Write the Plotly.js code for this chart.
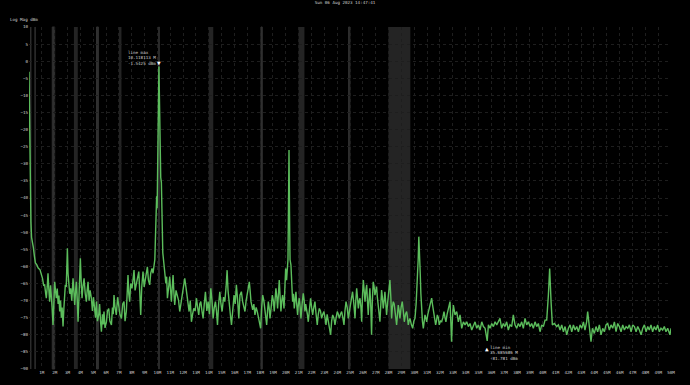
<!DOCTYPE html>
<html>
<head>
<meta charset="utf-8">
<script src="https://cdn.plot.ly/plotly-3.0.1.min.js"></script>
<style>
html,body{margin:0;padding:0;background:#000;}
#chart{width:690px;height:385px;}
</style>
</head>
<body>
<div id="chart"></div>
<script>
// ---- data ----
const chartTitle = 'Sun 06 Aug 2023 14:47:41';
const yLabel = 'Log Mag dBm';

const freqMHz = [
0.00,0.02,0.04,0.07,0.11,0.15,0.20,0.27,0.34,0.42,0.50,0.60,0.72,0.86,0.96,1.05,1.14,1.22,1.30,1.35,
1.42,1.48,1.55,1.61,1.68,1.74,1.80,1.87,1.93,2.00,2.06,2.13,2.20,2.27,2.33,2.39,2.46,2.52,2.58,2.65,
2.72,2.78,2.83,2.90,2.95,2.99,3.04,3.09,3.17,3.25,3.33,3.43,3.50,3.56,3.63,3.69,3.76,3.82,3.90,3.96,
4.00,4.06,4.13,4.20,4.29,4.38,4.47,4.53,4.60,4.68,4.76,4.86,4.94,5.02,5.12,5.18,5.25,5.33,5.43,5.50,
5.57,5.64,5.72,5.78,5.84,5.92,6.03,6.11,6.21,6.30,6.42,6.50,6.56,6.62,6.70,6.80,6.90,6.99,7.08,7.20,
7.30,7.40,7.48,7.58,7.64,7.71,7.77,7.84,7.92,8.02,8.10,8.18,8.26,8.36,8.45,8.55,8.62,8.70,8.78,8.88,
8.97,9.06,9.14,9.22,9.30,9.40,9.48,9.58,9.66,9.74,9.80,9.86,9.90,9.94,9.98,10.03,10.08,10.118113,10.16,10.21,
10.26,10.31,10.36,10.42,10.50,10.57,10.66,10.72,10.78,10.88,10.96,11.03,11.09,11.16,11.22,11.29,11.35,11.45,11.56,11.65,
11.74,11.83,11.92,12.02,12.13,12.22,12.31,12.40,12.47,12.56,12.65,12.74,12.83,12.94,13.04,13.13,13.22,13.30,13.38,13.47,
13.56,13.65,13.74,13.85,13.95,14.05,14.16,14.25,14.34,14.43,14.52,14.60,14.68,14.77,14.86,14.95,15.04,15.15,15.25,15.35,
15.43,15.50,15.58,15.68,15.77,15.87,15.97,16.06,16.15,16.25,16.34,16.43,16.54,16.64,16.73,16.82,16.91,17.00,17.08,17.16,
17.22,17.29,17.42,17.51,17.60,17.69,17.78,17.86,17.94,18.04,18.12,18.20,18.29,18.38,18.45,18.51,18.58,18.64,18.70,18.77,
18.86,18.95,19.03,19.10,19.16,19.23,19.30,19.36,19.43,19.49,19.56,19.62,19.69,19.75,19.81,19.86,19.93,19.99,20.06,20.12,
20.17,20.21,20.25,20.29,20.33,20.40,20.47,20.53,20.60,20.66,20.72,20.79,20.85,20.92,20.98,21.05,21.12,21.18,21.27,21.36,
21.43,21.49,21.55,21.62,21.68,21.75,21.84,21.93,22.01,22.09,22.18,22.27,22.36,22.45,22.53,22.61,22.70,22.79,22.88,22.97,
23.05,23.13,23.22,23.31,23.40,23.49,23.57,23.65,23.74,23.83,23.92,24.01,24.09,24.17,24.26,24.35,24.44,24.53,24.61,24.69,
24.78,24.87,24.96,25.05,25.12,25.20,25.30,25.39,25.45,25.52,25.58,25.65,25.72,25.78,25.85,25.91,25.98,26.04,26.10,26.17,
26.24,26.30,26.36,26.42,26.48,26.55,26.62,26.68,26.74,26.81,26.88,26.94,27.01,27.07,27.13,27.20,27.27,27.33,27.40,27.46,
27.52,27.59,27.66,27.72,27.79,27.85,27.92,27.98,28.05,28.11,28.18,28.24,28.30,28.37,28.44,28.50,28.57,28.63,28.70,28.76,
28.83,28.89,28.98,29.07,29.15,29.23,29.32,29.41,29.48,29.54,29.60,29.67,29.78,29.88,29.97,30.06,30.15,30.24,30.31,30.36,
30.41,30.47,30.52,30.58,30.64,30.71,30.78,30.84,30.90,30.97,31.06,31.15,31.25,31.36,31.42,31.49,31.58,31.67,31.73,31.80,
31.88,31.95,32.05,32.14,32.23,32.32,32.40,32.47,32.56,32.66,32.72,32.79,32.85,32.91,32.98,33.05,33.18,33.31,33.44,33.57,
33.70,33.83,33.96,34.09,34.22,34.35,34.48,34.61,34.74,34.87,35.00,35.13,35.26,35.39,35.52,35.685686,35.78,35.91,36.04,36.17,
36.30,36.43,36.56,36.68,36.81,36.94,37.07,37.20,37.33,37.46,37.59,37.72,37.85,37.98,38.11,38.24,38.37,38.50,38.63,38.76,
38.89,39.02,39.15,39.28,39.41,39.54,39.67,39.80,39.93,40.06,40.19,40.32,40.45,40.55,40.66,40.76,40.92,41.10,41.23,41.36,
41.49,41.62,41.75,41.88,42.01,42.14,42.27,42.40,42.53,42.66,42.79,42.92,43.05,43.18,43.30,43.43,43.51,43.62,43.77,43.88,
44.03,44.16,44.29,44.42,44.55,44.68,44.81,44.94,45.07,45.20,45.33,45.46,45.59,45.72,45.85,45.98,46.11,46.24,46.37,46.50,
46.63,46.76,46.89,47.02,47.15,47.28,47.41,47.54,47.67,47.80,47.93,48.06,48.19,48.31,48.44,48.57,48.70,48.83,48.96,49.09,
49.22,49.35,49.48,49.61,49.74,49.92,50.00
];

const magDbm = [
-3.1,-10,-22,-31,-40,-47,-51.5,-54,-54.5,-57,-59,-59.5,-60.5,-61,-62,-63.5,-65.5,-65.4,-68,-69.3,
-66,-62,-67,-70.3,-65.5,-67.9,-72,-77.1,-71,-64.5,-67,-69.3,-66.5,-71,-68.5,-73.2,-70,-75,-72,-77.6,
-72,-69,-65.4,-66,-60,-54.7,-62,-64.5,-68,-66.4,-70,-63.5,-67,-71.3,-67,-64.5,-70,-76.2,-68,-61,
-57.6,-64,-69.3,-66,-63.5,-68,-70.3,-67,-64.5,-70,-67,-69.3,-73,-69,-72.3,-75,-70.3,-76,-74.2,-71,
-76,-79.1,-74,-77,-73.2,-78,-76.2,-73,-72.3,-76,-77.1,-72,-74,-68.4,-72,-74.2,-69,-71.3,-74,-75.2,
-71,-70.3,-76,-73.2,-68,-62.5,-68,-70.3,-65,-66.4,-64,-61.1,-67,-65.4,-63,-61.5,-67,-74.2,-66,-61.5,
-66,-63.5,-62,-60.1,-64,-65.4,-62,-60.6,-62,-60,-58,-50,-41,-39.5,-43,-25,-8,-1.5425,-11,-25,
-34,-35.5,-45,-56,-59,-61.5,-65,-63,-69.3,-66,-63,-67,-70.3,-66,-62.5,-68,-71.3,-67,-68.4,-70,
-73.2,-71,-69.3,-67,-63.5,-66,-68.4,-71,-73.2,-70,-76.2,-74,-72.3,-73,-69.3,-72,-74.2,-71,-70.3,-73,
-75.2,-71,-67.4,-73,-70.3,-74,-66.4,-70,-75.2,-72,-70.3,-73,-77.1,-71,-67.4,-71,-73.2,-69,-70.3,-66,
-61.1,-67,-71.3,-74,-77.1,-72,-68.4,-71,-65.4,-70,-75.2,-68.4,-67.4,-70.3,-72,-73.2,-70,-67.9,-66,-64.5,
-67,-70.3,-72.7,-71,-74.2,-72,-73.2,-75,-76.2,-78.1,-72,-68.4,-70,-72.3,-75,-77.1,-73,-70.3,-72,-75.2,
-72,-68.4,-70,-73.2,-70,-66.4,-69,-72.3,-68,-64,-69,-73.2,-70,-68.4,-70,-72.3,-66,-60.6,-64,-59.6,
-58,-42,-26,-44,-58,-59.6,-65,-70.3,-68,-72.3,-70,-67.4,-71,-74.2,-71,-69.3,-72,-75.2,-71,-67.9,
-70,-73.2,-71,-72.3,-74,-76.2,-72,-69.3,-72,-74.2,-72,-70.3,-74,-77.1,-74,-72.3,-73,-75.2,-74,-73.2,
-75,-77.1,-74,-76.2,-78,-80,-76,-74.2,-75,-77.1,-75,-73.2,-74,-75.2,-74,-73.2,-75,-77.1,-73,-70.3,
-72,-75.2,-73,-71.3,-69,-67.4,-71,-75.2,-70,-66.4,-69,-72.3,-70,-69.3,-72,-76.2,-68,-64,-67,-70.3,
-67,-65.4,-70,-74.2,-70,-66.4,-72,-80,-70,-64.5,-66,-68.4,-67,-65.9,-69,-73.2,-74,-76.2,-70,-66.9,
-69,-72.3,-70,-67.4,-71,-74.2,-71,-69.3,-67,-64,-69,-75.2,-72,-70.3,-71,-73.2,-75,-77.1,-74,-71.3,
-73,-75.2,-72,-70.3,-73,-76.2,-74,-73.2,-75,-77.1,-76,-75.2,-77,-78.1,-76,-75.2,-71,-65.4,-58,-51.3,
-55,-62,-68,-73.2,-76,-78.1,-76,-74.2,-75,-76.2,-74,-72.3,-71,-69.3,-71,-73.2,-75,-77.1,-76,-74.2,
-75,-77.1,-76,-76.2,-75,-73.2,-75,-76.2,-74,-72.3,-71,-70.3,-76,-82,-75,-71.3,-74.2,-73.2,-76.2,-74.2,
-78.1,-76.2,-77.1,-76.2,-77.6,-76.7,-78.6,-77.1,-76.2,-78.1,-77.1,-78.6,-76.2,-77.6,-78.1,-81.781,-77.1,-78.1,-76.7,-77.6,
-76.2,-77.1,-76.2,-75.2,-78.1,-76.7,-77.6,-76.2,-78.6,-77.1,-77.6,-74.2,-77.1,-78.1,-76.7,-77.6,-76.2,-78.1,-75.2,-77.1,
-76.2,-77.6,-76.7,-78.1,-76.2,-77.6,-76.7,-79.1,-77.1,-77.6,-75.7,-75.7,-68.4,-60.6,-70.3,-77.1,-76.7,-77.6,-77.1,-78.6,
-77.1,-79.1,-77.6,-80,-78.1,-77.1,-79.1,-77.1,-78.6,-77.6,-79.1,-77.1,-78.1,-76.2,-78.6,-76.2,-73.2,-77.1,-82,-78.1,
-79.6,-77.6,-79.1,-77.1,-80,-78.1,-79.1,-77.1,-76.7,-78.6,-77.1,-78.1,-76.2,-79.1,-76.7,-77.6,-79.1,-77.1,-78.6,-77.6,
-78.1,-77.1,-79.1,-77.1,-77.6,-79.1,-77.6,-78.6,-80,-78.1,-77.1,-79.1,-77.6,-78.6,-77.1,-79.1,-77.6,-78.6,-77.1,-79.1,
-78.1,-78.6,-77.6,-79.1,-78.1,-80,-78.1
];

// amateur radio bands (MHz) shaded in the background
const bandLo = [0.1357, 0.472, 1.81, 3.5, 5.258, 7.0, 10.1, 14.0, 18.068, 21.0, 24.89, 28.0];
const bandHi = [0.1378, 0.479, 2.0, 3.8, 5.4065, 7.2, 10.15, 14.35, 18.168, 21.45, 24.99, 29.7];

// markers
const maxLabel = 'line max';
const maxFreq = 10.118113;
const maxVal = -1.5425;
const minLabel = 'line min';
const minFreq = 35.685686;
const minVal = -81.781;

// x tick labels
const xTickVals = [1,2,3,4,5,6,7,8,9,10,11,12,13,14,15,16,17,18,19,20,21,22,23,24,25,
  26,27,28,29,30,31,32,33,34,35,36,37,38,39,40,41,42,43,44,45,46,47,48,49,50];
const xTickText = xTickVals.map(v => v + 'M');

// ---- drawing ----
const mono = 'DejaVu Sans Mono, monospace';
const txt = '#d0d0d0';

const shapes = bandLo.map((lo, i) => {
  const narrow = (bandHi[i] - lo) < 0.2;
  return {
    type: 'rect', xref: 'x', yref: 'paper', x0: lo, x1: bandHi[i], y0: 0, y1: 1,
    fillcolor: narrow ? '#303030' : '#242424',
    line: narrow ? {color: '#303030', width: 1} : {width: 0},
    layer: 'below'
  };
});

const trace = {
  x: freqMHz, y: magDbm, type: 'scatter', mode: 'lines',
  line: {color: '#5cbd5c', width: 1.4},
  hoverinfo: 'skip'
};

const annotations = [
  {xref: 'paper', yref: 'paper', x: -0.0322, y: 1.0205, xanchor: 'left', yanchor: 'middle',
   text: yLabel, showarrow: false, font: {family: mono, size: 4.2, color: txt}},
  {xref: 'x', yref: 'y', x: maxFreq, y: maxVal, xanchor: 'center', yanchor: 'bottom',
   text: '▼', showarrow: false, yshift: -1, borderpad: 0, font: {family: mono, size: 6, color: '#ffffff'}},
  {xref: 'x', yref: 'y', x: maxFreq, y: maxVal, xanchor: 'right', yanchor: 'bottom', align: 'left',
   xshift: -2, yshift: -1, borderpad: 0,
   text: maxLabel + '<br>' + maxFreq.toFixed(6) + ' M<br>' + maxVal + ' dBm',
   showarrow: false, font: {family: mono, size: 4.2, color: txt}},
  {xref: 'x', yref: 'y', x: minFreq, y: minVal, xanchor: 'center', yanchor: 'top',
   text: '▲', showarrow: false, yshift: -3, borderpad: 0, font: {family: mono, size: 6, color: '#ffffff'}},
  {xref: 'x', yref: 'y', x: minFreq, y: minVal, xanchor: 'left', yanchor: 'top', align: 'left',
   xshift: 2, yshift: -3.5, borderpad: 0,
   text: minLabel + '<br>' + minFreq.toFixed(6) + ' M<br>' + minVal + ' dBm',
   showarrow: false, font: {family: mono, size: 4.2, color: txt}}
];

const layout = {
  width: 690, height: 385,
  paper_bgcolor: '#000', plot_bgcolor: '#000',
  margin: {l: 29, r: 19, t: 27, b: 16, pad: 0},
  showlegend: false,
  title: {text: chartTitle, x: 0.5, xref: 'container', xanchor: 'center',
          y: 0.993, yref: 'container', yanchor: 'middle',
          font: {family: mono, size: 4.2, color: txt}},
  xaxis: {
    range: [0, 50], tickvals: xTickVals, ticktext: xTickText,
    showgrid: true, gridcolor: '#1e1e1e', griddash: 'dot', gridwidth: 1,
    zeroline: false, showline: false, ticks: '', ticklabelstandoff: 0,
    tickfont: {family: mono, size: 4.2, color: txt}
  },
  yaxis: {
    range: [-90, 10], dtick: 5, tick0: 0,
    showgrid: true, gridcolor: '#1e1e1e', griddash: 'dot', gridwidth: 1,
    zeroline: false, showline: false, ticks: '', ticklabelstandoff: 0,
    tickfont: {family: mono, size: 4.2, color: txt}
  },
  shapes: shapes,
  annotations: annotations
};

Plotly.newPlot('chart', [trace], layout, {staticPlot: true, displayModeBar: false});
</script>
</body>
</html>
